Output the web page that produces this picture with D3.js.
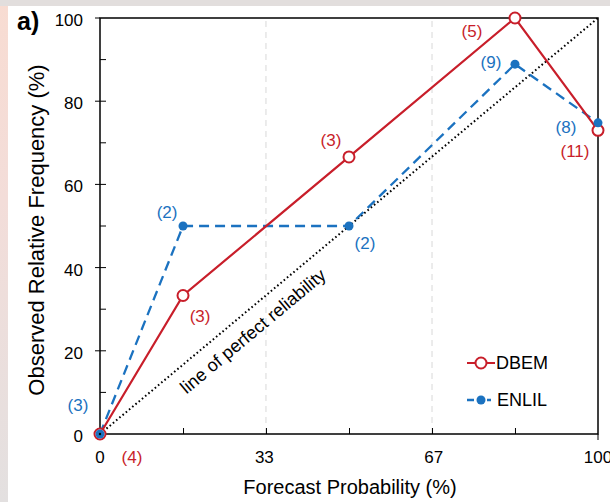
<!DOCTYPE html>
<html><head><meta charset="utf-8">
<script src="https://cdn.jsdelivr.net/npm/d3@7"></script>
<style>body{margin:0;padding:0;overflow:hidden;}svg{display:block;font-family:"Liberation Sans",Arial,sans-serif;}</style>
</head><body>
<svg id="c" width="610" height="502"></svg>
<script>
const categories = [0, 16.67, 50, 83.33, 100];
const dbem = [0, 33.3, 66.6, 100, 73];
const enlil = [0, 50, 50, 88.9, 74.8];
const dbemCounts = ["(4)", "(3)", "(3)", "(5)", "(11)"];
const enlilCounts = ["(3)", "(2)", "(2)", "(9)", "(8)"];
const xTickLabels = [0, 33, 67, 100];
const yTickLabels = [0, 20, 40, 60, 80, 100];
const RED = "#c81e2a", BLUE = "#1b72c0";

const svg = d3.select("#c");
const defs = svg.append("defs");
const g1 = defs.append("linearGradient").attr("id","lg").attr("x1",0).attr("y1",0).attr("x2",0).attr("y2",1);
g1.append("stop").attr("offset","0").attr("stop-color","#f8dcd2");
g1.append("stop").attr("offset","0.4").attr("stop-color","#f3ddd9");
g1.append("stop").attr("offset","1").attr("stop-color","#e3e0e0");
svg.append("rect").attr("width",610).attr("height",502).attr("fill","url(#lg)");
svg.append("rect").attr("x",0).attr("y",0).attr("width",610).attr("height",6).attr("fill","#e2dedd");
svg.append("rect").attr("x",8).attr("y",6).attr("width",602).attr("height",496).attr("fill","#ffffff");

const x = d3.scaleLinear().domain([0,100]).range([100,598]);
const y = d3.scaleLinear().domain([0,100]).range([434,18]);

// gridlines
svg.selectAll(".grid").data([33.33, 66.67]).enter().append("line")
  .attr("x1",d=>x(d)).attr("x2",d=>x(d)).attr("y1",y(0)).attr("y2",y(100))
  .attr("stroke","#d8d8d8").attr("stroke-width",1).attr("stroke-dasharray","6,5");

// perfect reliability
svg.append("line").attr("x1",x(0)).attr("y1",y(0)).attr("x2",x(100)).attr("y2",y(100))
  .attr("stroke","#000").attr("stroke-width",2).attr("stroke-dasharray","1.6,2.6").attr("stroke-linecap","butt");
const ang = Math.atan2(y(0)-y(100), x(100)-x(0))*180/Math.PI;
svg.append("text").attr("transform",`translate(${x(31.5)},${y(23.6)}) rotate(${-ang})`)
  .attr("text-anchor","middle").attr("font-size",18).attr("fill","#000").text("line of perfect reliability");

// frame
svg.append("rect").attr("x",x(0)).attr("y",y(100)).attr("width",x(100)-x(0)).attr("height",y(0)-y(100))
  .attr("fill","none").attr("stroke","#000").attr("stroke-width",1.5);
// ticks
const xAxis = d3.axisBottom(x).tickValues([16.67,33.33,50,66.67,83.33]).tickSizeInner(-6).tickSizeOuter(0).tickFormat("");
svg.append("g").attr("transform",`translate(0,${y(0)})`).call(xAxis).call(g=>g.select(".domain").remove());
svg.selectAll(".yt").data(d3.range(10,100,10)).enter().append("line")
  .attr("x1",d=> d%20===0 ? x(0)-5 : x(0)).attr("x2",x(0)+6).attr("y1",d=>y(d)).attr("y2",d=>y(d)).attr("stroke","#000").attr("stroke-width",1);
svg.append("line").attr("x1",x(0)-5).attr("x2",x(0)).attr("y1",y(100)).attr("y2",y(100)).attr("stroke","#000");
svg.append("line").attr("x1",x(100)).attr("x2",x(100)).attr("y1",y(0)).attr("y2",y(0)+6).attr("stroke","#000");

svg.selectAll(".xl").data(xTickLabels).enter().append("text")
  .attr("x",d=>x(d)).attr("y",y(0)+29).attr("text-anchor","middle").attr("font-size",17).text(d=>d);
svg.selectAll(".yl").data(yTickLabels).enter().append("text")
  .attr("x",x(0)-17).attr("y",d=>y(d)+8).attr("text-anchor","end").attr("font-size",17).text(d=>d);

svg.append("text").attr("x",350).attr("y",494).attr("text-anchor","middle").attr("font-size",20).text("Forecast Probability (%)");
svg.append("text").attr("transform",`translate(44,230) rotate(-90)`).attr("text-anchor","middle").attr("font-size",22).text("Observed Relative Frequency (%)");
svg.append("text").attr("x",17).attr("y",30).attr("font-size",25).attr("font-weight","bold").text("a)");

// series
const pts = (vals)=>categories.map((c,i)=>[c,vals[i]]);
const line = d3.line().x(d=>x(d[0])).y(d=>y(d[1]));
svg.append("path").attr("d",line(pts(enlil))).attr("fill","none").attr("stroke",BLUE).attr("stroke-width",2.3).attr("stroke-dasharray","10,6");
svg.append("path").attr("d",line(pts(dbem))).attr("fill","none").attr("stroke",RED).attr("stroke-width",2.2);
svg.selectAll(".dc").data(pts(dbem)).enter().append("circle")
  .attr("cx",d=>x(d[0])).attr("cy",d=>y(d[1])).attr("r",5.5).attr("fill","#fff").attr("stroke",RED).attr("stroke-width",2);
svg.selectAll(".ec").data(pts(enlil)).enter().append("circle")
  .attr("cx",d=>x(d[0])).attr("cy",d=>y(d[1])).attr("r",4.5).attr("fill",BLUE);
svg.append("circle").attr("cx",x(0)).attr("cy",y(0)).attr("r",1.2).attr("fill","#000");

// count labels (offsets in px)
const dOff = [[32,29],[17,27],[-18,-11],[-43,19],[-23,27]];
const eOff = [[-22,-23],[-16,-8],[16,23],[-24,4],[-32,10]];
svg.selectAll(".dl").data(dbemCounts).enter().append("text")
  .attr("x",(d,i)=>x(categories[i])+dOff[i][0]).attr("y",(d,i)=>y(dbem[i])+dOff[i][1])
  .attr("text-anchor","middle").attr("font-size",17).attr("fill",RED).text(d=>d);
svg.selectAll(".el").data(enlilCounts).enter().append("text")
  .attr("x",(d,i)=>x(categories[i])+eOff[i][0]).attr("y",(d,i)=>y(enlil[i])+eOff[i][1])
  .attr("text-anchor","middle").attr("font-size",17).attr("fill",BLUE).text(d=>d);

// legend
const lg = svg.append("g");
lg.append("line").attr("x1",467).attr("x2",495).attr("y1",363).attr("y2",363).attr("stroke",RED).attr("stroke-width",2);
lg.append("circle").attr("cx",481).attr("cy",363).attr("r",5.5).attr("fill","#fff").attr("stroke",RED).attr("stroke-width",2);
lg.append("text").attr("x",496).attr("y",369).attr("font-size",18).text("DBEM");
lg.append("line").attr("x1",467).attr("x2",491).attr("y1",400).attr("y2",400).attr("stroke",BLUE).attr("stroke-width",2.3).attr("stroke-dasharray","7,3");
lg.append("circle").attr("cx",481).attr("cy",400).attr("r",4.5).attr("fill",BLUE);
lg.append("text").attr("x",497).attr("y",406).attr("font-size",18).text("ENLIL");
</script>
</body></html>
